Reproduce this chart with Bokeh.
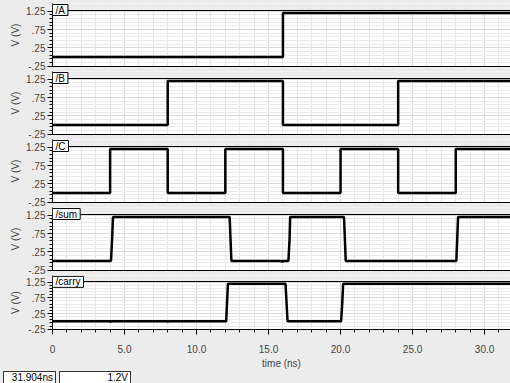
from bokeh.plotting import figure
from bokeh.layouts import column
from bokeh.models import Range1d, FixedTicker, SingleIntervalTicker, Label, BoxAnnotation, Span, Div
from bokeh.embed import file_html
from bokeh.resources import INLINE

# ---- data ----
signal_names = ["/A", "/B", "/C", "/sum", "/carry"]

a_t = [0, 16.0, 16.0, 31.9]
a_v = [0, 0, 1.2, 1.2]

b_t = [0, 8.0, 8.0, 16.0, 16.0, 24.0, 24.0, 31.9]
b_v = [0, 0, 1.2, 1.2, 0, 0, 1.2, 1.2]

c_t = [0, 4, 4, 8, 8, 12, 12, 16, 16, 20, 20, 24, 24, 28, 28, 31.9]
c_v = [0, 0, 1.2, 1.2, 0, 0, 1.2, 1.2, 0, 0, 1.2, 1.2, 0, 0, 1.2, 1.2]

sum_t = [0, 4.06, 4.14, 4.2, 12.3, 12.36, 12.42, 15.9, 15.95, 16.0, 16.38, 16.46, 16.5,
         20.24, 20.3, 20.36, 28.04, 28.1, 28.16, 31.9]
sum_v = [0, 0, 0.6, 1.2, 1.2, 0.6, 0, 0, -0.03, 0, 0, 0.6, 1.2,
         1.2, 0.6, 0, 0, 0.6, 1.2, 1.2]

carry_t = [0, 4.0, 4.02, 4.05, 8.0, 8.02, 8.05, 12.06, 12.12, 12.18, 16.18, 16.25, 16.32,
           20.04, 20.12, 20.18, 31.9]
carry_v = [0, 0, -0.03, 0, 0, -0.03, 0, 0, 0.6, 1.2, 1.2, 0.6, 0,
           0, 0.6, 1.2, 1.2]

series_t = [a_t, b_t, c_t, sum_t, carry_t]
series_v = [a_v, b_v, c_v, sum_v, carry_v]

y_ticks = [-0.25, 0.25, 0.75, 1.25]
y_tick_labels = ["-.25", ".25", ".75", "1.25"]
y_minor = [-0.15, -0.05, 0.05, 0.15, 0.35, 0.45, 0.55, 0.65, 0.85, 0.95, 1.05, 1.15]
x_ticks = [0, 5, 10, 15, 20, 25, 30]
x_tick_labels = ["0", "5.0", "10.0", "15.0", "20.0", "25.0", "30.0"]

cursor_time = "31.904ns"
cursor_value = "1.2V"

# ---- styling ----
FONT = "Liberation Sans"
BG = "#ececec"
FS = "10px"

Y_BOT, Y_SIG_TOP = -0.26, 1.27     # visible voltage window of each panel
SIG_PX, TAB_PX = 56, 7             # pixel height of signal area and label-tab strip
PX = (Y_SIG_TOP - Y_BOT) / SIG_PX  # volts per pixel
Y_TOP = Y_SIG_TOP + TAB_PX * PX
X_END = 31.8

x_range = Range1d(0, X_END)
figs = []
n = len(signal_names)
for i, (name, ts, vs) in enumerate(zip(signal_names, series_t, series_v)):
    last = i == n - 1
    top = 3 if i == 0 else 0
    bottom = 33 if last else 5
    p = figure(width=510, height=top + SIG_PX + TAB_PX + bottom, x_range=x_range,
               y_range=Range1d(Y_BOT, Y_TOP), output_backend="svg",
               toolbar_location=None, min_border_left=52, min_border_right=0,
               min_border_top=top, min_border_bottom=bottom,
               background_fill_color="white", border_fill_color=BG,
               outline_line_color=None)
    # grids
    xt = SingleIntervalTicker(interval=5, num_minor_ticks=5)
    p.xgrid.ticker = xt
    p.xgrid.grid_line_color = "#bdbdbd"
    p.xgrid.grid_line_dash = "1 2"
    p.xgrid.minor_grid_line_color = "#e6e6e6"
    yt = FixedTicker(ticks=y_ticks, minor_ticks=y_minor)
    p.ygrid.ticker = yt
    p.ygrid.grid_line_color = "#dcdcdc"
    p.ygrid.minor_grid_line_color = "#ebebeb"

    # y axis
    p.yaxis.ticker = yt
    p.yaxis.major_label_overrides = {t: l for t, l in zip(y_ticks, y_tick_labels)}
    p.yaxis.axis_label = "V (V)"
    p.yaxis.axis_label_text_font = FONT
    p.yaxis.axis_label_text_font_size = FS
    p.yaxis.axis_label_text_font_style = "normal"
    p.yaxis.axis_label_standoff = 2
    p.yaxis.major_label_text_font = FONT
    p.yaxis.major_label_text_font_size = FS
    p.yaxis.major_label_standoff = 2
    p.yaxis.major_tick_out = 5
    p.yaxis.major_tick_in = 0
    p.yaxis.minor_tick_out = 3
    p.yaxis.minor_tick_in = 0
    p.yaxis.axis_line_color = "black"

    p.xaxis.axis_line_color = "black"
    if last:
        p.xaxis.ticker = xt
        p.xaxis.major_label_overrides = {t: l for t, l in zip(x_ticks, x_tick_labels)}
        p.xaxis.axis_label = "time (ns)"
        p.xaxis.axis_label_text_font = FONT
        p.xaxis.axis_label_text_font_size = FS
        p.xaxis.axis_label_text_font_style = "normal"
        p.xaxis.axis_label_standoff = 2
        p.xaxis.major_label_text_font = FONT
        p.xaxis.major_label_text_font_size = FS
        p.xaxis.major_label_standoff = 10
        p.xaxis.major_tick_out = 5
        p.xaxis.major_tick_in = 0
        p.xaxis.minor_tick_out = 3
        p.xaxis.minor_tick_in = 0
    else:
        p.xaxis.ticker = FixedTicker(ticks=[])
        p.xaxis.major_label_standoff = 0
        p.xaxis.major_tick_out = 0
        p.xaxis.minor_tick_out = 0

    p.line(ts, vs, line_color="black", line_width=2.5)

    # grey strip above the signal area (holds the name tab)
    p.add_layout(BoxAnnotation(left=0, right=X_END, bottom=Y_SIG_TOP, top=Y_TOP,
                               fill_color=BG, fill_alpha=1, line_color=None))
    p.add_layout(Span(location=Y_SIG_TOP, dimension="width", line_color="black",
                      line_width=1))
    p.add_layout(Label(x=0, y=Y_TOP - 1 * PX, text=name, x_offset=0, y_offset=0,
                       anchor="top_left", text_font=FONT, text_font_size=FS,
                       text_color="black",
                       background_fill_color="white", border_line_color="black",
                       border_line_width=1, padding=(3, 0)))
    figs.append(p)

box = ("position:absolute;top:0px;height:12px;border:1px solid #333;border-bottom:none;"
       "background:#fff;text-align:right;line-height:12px;padding-right:2px;")
status = Div(
    text=(
        f"<div style=\"position:relative;width:510px;height:12px;background:{BG};"
        f"font-family:'{FONT}';font-size:10px;color:black;\">"
        f"<div style=\"{box}left:3px;width:53px;\">{cursor_time}</div>"
        f"<div style=\"{box}left:59px;width:72px;\">{cursor_value}</div>"
        "</div>"
    ),
    width=510, height=12, margin=0,
)
figs.append(status)

layout = column(*figs, spacing=0)
layout.styles = {"background-color": BG}
open("out.html", "w").write(file_html(layout, INLINE))
